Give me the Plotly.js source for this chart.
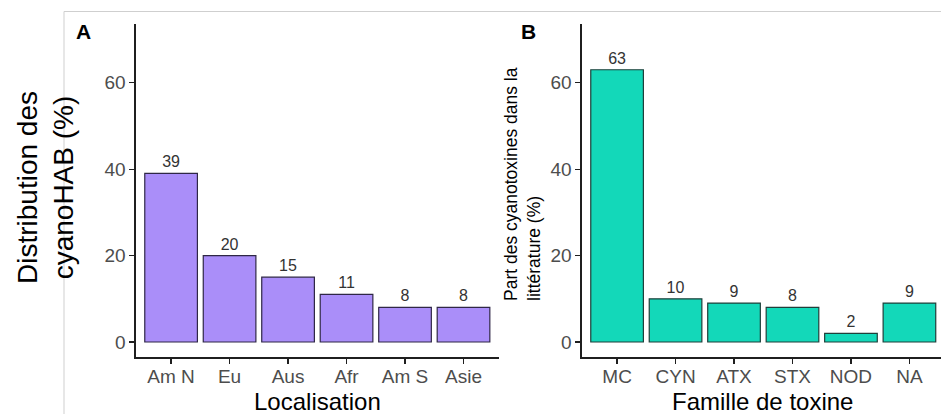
<!DOCTYPE html>
<html>
<head>
<meta charset="utf-8">
<script src="https://cdn.plot.ly/plotly-3.0.1.min.js"></script>
<style>
  html, body { margin: 0; padding: 0; background: #ffffff; }
  #chart { width: 941px; height: 414px; }
</style>
</head>
<body>
<div id="chart"></div>
<script>
// Panel A: share of cyanoHAB reports by region (%)
const regions = ["Am N", "Eu", "Aus", "Afr", "Am S", "Asie"];
const regionShare = [39, 20, 15, 11, 8, 8];

// Panel B: share of cyanotoxin families in the literature (%)
const toxins = ["MC", "CYN", "ATX", "STX", "NOD", "NA"];
const toxinShare = [63, 10, 9, 8, 2, 9];

const yTicks = [0, 20, 40, 60];

const W = 941, H = 414;
const px = v => v / W;          // horizontal pixel -> paper
const py = v => 1 - v / H;      // vertical pixel -> paper

const FONT = "Liberation Sans, Arial, sans-serif";
const AXIS_DARK = "#1f1f1f";
const TICK_GREY = "#4d4d4d";

function barTrace(x, y, fill, edge, xa, ya) {
  return {
    type: "bar",
    x: x,
    y: y,
    xaxis: xa,
    yaxis: ya,
    width: 0.9,
    marker: { color: fill, line: { color: edge, width: 1.2 } },
    text: y.map(String),
    textposition: "outside",
    cliponaxis: false,
    textfont: { family: FONT, size: 16, color: "#333333" },
    hoverinfo: "x+y",
    showlegend: false
  };
}

const traces = [
  barTrace(regions, regionShare, "#aa8ef9", "#2f2746", "x", "y"),
  barTrace(toxins, toxinShare, "#13d8b9", "#1f3f3a", "x2", "y2")
];

function yAxis(anchor) {
  return {
    domain: [py(357), py(24)],
    range: [-3.47, 73.58],
    anchor: anchor,
    tickmode: "array",
    tickvals: yTicks,
    ticktext: yTicks.map(String),
    ticks: "outside",
    ticklen: 5,
    tickwidth: 1.2,
    tickcolor: AXIS_DARK,
    showline: true,
    linecolor: AXIS_DARK,
    linewidth: 1.6,
    showgrid: false,
    zeroline: false,
    tickfont: { family: FONT, size: 19, color: TICK_GREY },
    fixedrange: true
  };
}

function xAxis(domain, range, anchor) {
  return {
    domain: domain,
    range: range,
    anchor: anchor,
    type: "category",
    ticks: "outside",
    ticklen: 5,
    tickwidth: 1.2,
    tickcolor: AXIS_DARK,
    ticklabelstandoff: -3,
    showline: true,
    linecolor: AXIS_DARK,
    linewidth: 1.6,
    showgrid: false,
    zeroline: false,
    tickfont: { family: FONT, size: 19, color: TICK_GREY },
    fixedrange: true
  };
}

const layout = {
  width: W,
  height: H,
  margin: { l: 0, r: 0, t: 0, b: 0, pad: 0 },
  paper_bgcolor: "#ffffff",
  plot_bgcolor: "rgba(0,0,0,0)",
  font: { family: FONT, color: "#000000" },
  bargap: 0.1,
  xaxis: xAxis([px(136), px(498.6)], [-0.6, 5.6], "y"),
  yaxis: yAxis("x"),
  xaxis2: xAxis([px(582), 1], [-0.6, 5.54], "y2"),
  yaxis2: yAxis("x2"),
  shapes: [
    { type: "line", xref: "paper", yref: "paper", layer: "below",
      x0: px(64), x1: 1, y0: py(11.5), y1: py(11.5),
      line: { color: "#cfcfcf", width: 1 } },
    { type: "line", xref: "paper", yref: "paper", layer: "below",
      x0: px(64), x1: px(64), y0: py(11.5), y1: 0,
      line: { color: "#cfcfcf", width: 1 } }
  ],
  annotations: [
    { text: "<b>A</b>", xref: "paper", yref: "paper", x: px(74), y: py(31),
      xanchor: "left", yanchor: "middle", showarrow: false,
      font: { family: FONT, size: 21, color: "#000000" } },
    { text: "<b>B</b>", xref: "paper", yref: "paper", x: px(519), y: py(31),
      xanchor: "left", yanchor: "middle", showarrow: false,
      font: { family: FONT, size: 21, color: "#000000" } },
    { text: "Distribution des<br>cyanoHAB (%)", xref: "paper", yref: "paper",
      x: px(45), y: py(188), xanchor: "center", yanchor: "middle",
      textangle: -90, showarrow: false,
      font: { family: FONT, size: 28, color: "#000000" } },
    { text: "Part des cyanotoxines dans la<br>littérature (%)", xref: "paper", yref: "paper",
      x: px(522), y: py(184), xanchor: "center", yanchor: "middle",
      textangle: -90, align: "left", showarrow: false,
      font: { family: FONT, size: 17.5, color: "#000000" } },
    { text: "Localisation", xref: "paper", yref: "paper",
      x: px(317.5), y: py(401), xanchor: "center", yanchor: "middle",
      showarrow: false, font: { family: FONT, size: 24, color: "#000000" } },
    { text: "Famille de toxine", xref: "paper", yref: "paper",
      x: px(762.5), y: py(401), xanchor: "center", yanchor: "middle",
      showarrow: false, font: { family: FONT, size: 24, color: "#000000" } }
  ]
};

Plotly.newPlot("chart", traces, layout, { displayModeBar: false, staticPlot: true });
</script>
</body>
</html>
